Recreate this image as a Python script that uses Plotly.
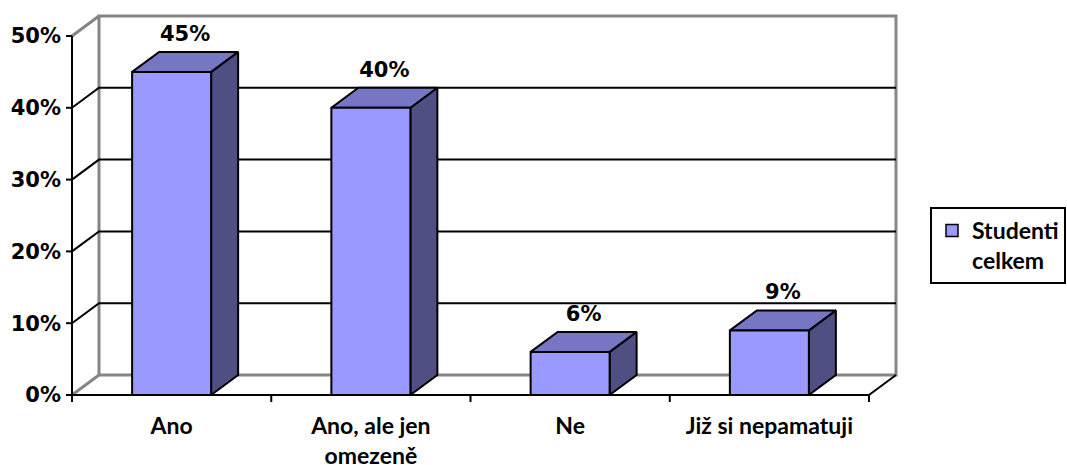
import plotly.graph_objects as go

# ---------------- data ----------------
categories = ["Ano", "Ano, ale jen omezeně", "Ne", "Již si nepamatuji"]
category_tick_text = ["Ano", "Ano, ale jen<br>omezeně", "Ne", "Již si nepamatuji"]
values = [45, 40, 6, 9]
series_name = "Studenti<br>celkem"
y_ticks = [0, 10, 20, 30, 40, 50]
y_tick_text = ["0%", "10%", "20%", "30%", "40%", "50%"]
grid_values = [10, 20, 30, 40]

# ---------------- geometry (pixel layout) ----------------
W_PX, H_PX = 1067, 465
FRONT_LEFT, FRONT_RIGHT = 72, 869
FRONT_BOTTOM, FRONT_TOP50 = 395, 36
DEPTH_XPX, DEPTH_YPX = 27, 20
BAR_PX = 79
UX = (FRONT_RIGHT - FRONT_LEFT) / len(categories)   # px per category
UY = (FRONT_BOTTOM - FRONT_TOP50) / 50.0             # px per percent
PLOT_L, PLOT_R, PLOT_T, PLOT_B = 64, 898, 13, 404

DX = DEPTH_XPX / UX
DY = DEPTH_YPX / UY
BW = BAR_PX / UX
n = len(categories)
x0, x1 = -0.5, n - 0.5

x_range = [x0 - (FRONT_LEFT - PLOT_L) / UX, x1 + (PLOT_R - FRONT_RIGHT) / UX]
y_range = [-(PLOT_B - FRONT_BOTTOM) / UY, 50 + (FRONT_TOP50 - PLOT_T) / UY]

FRONT = "#9999FF"
TOP = "#7676C4"
SIDE = "#4F4F84"
GRAY = "#858585"

fig = go.Figure()


def line_trace(xs, ys, color, width):
    fig.add_trace(go.Scatter(x=xs, y=ys, mode="lines", line=dict(color=color, width=width),
                             hoverinfo="skip", showlegend=False))


# back wall
line_trace([x0 + DX, x1 + DX, x1 + DX, x0 + DX, x0 + DX],
           [DY, DY, 50 + DY, 50 + DY, DY], GRAY, 3)
# left wall top edge and floor left edge
line_trace([x0, x0 + DX], [50, 50 + DY], GRAY, 3)
line_trace([x0, x0 + DX], [0, DY], GRAY, 3)
# gridlines on side + back wall
gx, gy = [], []
for g in grid_values:
    gx += [x0, x0 + DX, x1 + DX, None]
    gy += [g, g + DY, g + DY, None]
line_trace(gx, gy, "black", 2)
# floor right edge
line_trace([x1, x1 + DX], [0, DY], "black", 2)

# front axis lines
line_trace([x0, x0], [0, 50], "black", 2)
line_trace([x0, x1], [0, 0], "black", 2)
# y ticks
tx, ty = [], []
for v in y_ticks:
    tx += [x0 - 6 / UX, x0, None]
    ty += [v, v, None]
line_trace(tx, ty, "black", 2)
# x ticks
tx, ty = [], []
for k in range(n + 1):
    xv = x0 + k
    tx += [xv, xv, None]
    ty += [0, -7 / UY, None]
line_trace(tx, ty, "black", 2)

# bars (3D prisms)
sx, sy, topx, topy, fx, fy = [], [], [], [], [], []
for i, v in enumerate(values):
    l, r = i - BW / 2, i + BW / 2
    sx += [r, r + DX, r + DX, r, r, None]
    sy += [0, DY, v + DY, v, 0, None]
    topx += [l, l + DX, r + DX, r, l, None]
    topy += [v, v + DY, v + DY, v, v, None]
    fx += [l, r, r, l, l, None]
    fy += [0, 0, v, v, 0, None]
for xs, ys, col in [(sx, sy, SIDE), (topx, topy, TOP), (fx, fy, FRONT)]:
    fig.add_trace(go.Scatter(x=xs, y=ys, mode="lines", fill="toself", fillcolor=col,
                             line=dict(color="black", width=2), hoverinfo="skip",
                             showlegend=False))

# data labels
fig.add_trace(go.Scatter(
    x=[i + DX / 2 for i in range(n)],
    y=[v + DY + 6 / UY for v in values],
    mode="text", text=[f"{v}%" for v in values], textposition="top center",
    textfont=dict(family="DejaVu Sans", size=21, color="black", weight="bold"),
    cliponaxis=False, hoverinfo="skip", showlegend=False))

# legend-only trace
fig.add_trace(go.Bar(x=[None], y=[None], name=series_name,
                     marker=dict(color=FRONT, line=dict(color="black", width=1.5)),
                     showlegend=True))

fig.update_layout(
    width=W_PX, height=H_PX,
    margin=dict(l=PLOT_L, r=W_PX - PLOT_R, t=PLOT_T, b=H_PX - PLOT_B, autoexpand=False),
    paper_bgcolor="white", plot_bgcolor="white",
    showlegend=True,
    legend=dict(
        x=(930 - PLOT_L) / (PLOT_R - PLOT_L), xanchor="left",
        y=(PLOT_B - 207) / (PLOT_B - PLOT_T), yanchor="top",
        bordercolor="black", borderwidth=2, bgcolor="white",
        font=dict(family="Lato", size=23, color="black", weight="bold"),
        valign="top", itemwidth=30,
    ),
    xaxis=dict(range=x_range, showgrid=False, zeroline=False, showline=False,
               tickmode="array", tickvals=list(range(n)), ticktext=category_tick_text,
               ticks="", ticklabelstandoff=6,
               tickfont=dict(family="Lato", size=23, color="black", weight="bold")),
    yaxis=dict(range=y_range, showgrid=False, zeroline=False, showline=False,
               tickmode="array", tickvals=y_ticks, ticktext=y_tick_text,
               ticks="", ticklabelstandoff=2,
               tickfont=dict(family="DejaVu Sans", size=21, color="black", weight="bold")),
)

fig.write_html("out.html", config={"displayModeBar": False},
               post_script="document.body.style.margin='0px';")
